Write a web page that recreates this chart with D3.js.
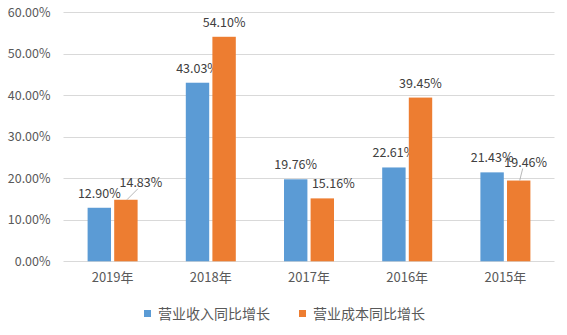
<!DOCTYPE html>
<html>
<head>
<meta charset="utf-8">
<script src="https://cdn.jsdelivr.net/npm/d3@7/dist/d3.min.js"></script>
<style>
  html, body { margin: 0; padding: 0; background: #fff; }
  svg { display: block; font-family: "Noto Sans CJK SC", "Noto Sans", sans-serif; }
</style>
</head>
<body>
<svg id="chart" width="567" height="335"></svg>
<script>
// Year-over-year growth, revenue vs. cost (%)
const years = ["2019年", "2018年", "2017年", "2016年", "2015年"];
const seriesNames = ["营业收入同比增长", "营业成本同比增长"];
const revenueGrowth = [12.90, 43.03, 19.76, 22.61, 21.43];
const costGrowth = [14.83, 54.10, 15.16, 39.45, 19.46];
const yTicks = [0, 10, 20, 30, 40, 50, 60];

const colors = ["#5B9BD5", "#ED7D31"];
const series = [revenueGrowth, costGrowth];

// small nudges for labels that would otherwise collide (index: year, series)
const labelNudge = {
  "0-1": { dx: 15, dy: -3, leader: true },
  "2-1": { dx: 11, dy: 0 },
  "4-1": { dx: 7, dy: -4, leader: true }
};

const svg = d3.select("#chart");
const margin = { left: 63.5, right: 12.5, top: 12.3, bottom: 73.7 };
const W = 567, H = 335;

const x0 = d3.scaleBand().domain(years).range([margin.left, W - margin.right]).paddingInner(0).paddingOuter(0);
const x1 = d3.scaleBand().domain([0, 1]).range([0, 50]).paddingInner(0.12);
const y = d3.scaleLinear().domain([0, 60]).range([H - margin.bottom, margin.top]);

// gridlines + y axis labels
const yAxis = d3.axisLeft(y).tickValues(yTicks).tickSize(0).tickPadding(13)
  .tickFormat(d => d.toFixed(2) + "%");
const gy = svg.append("g").attr("transform", `translate(${margin.left},0)`).call(yAxis);
gy.select(".domain").remove();
gy.selectAll("text").attr("fill", "#595959").style("font-size", "12.5px")
  .style("font-family", "'Noto Sans CJK SC', sans-serif");

svg.append("g").selectAll("line").data(yTicks).join("line")
  .attr("x1", margin.left).attr("x2", W - margin.right)
  .attr("y1", d => Math.round(y(d)) + 0.5).attr("y2", d => Math.round(y(d)) + 0.5)
  .attr("stroke", "#D9D9D9").attr("stroke-width", 1);

// x axis labels
const xAxis = d3.axisBottom(x0).tickSize(0).tickPadding(11);
const gx = svg.append("g").attr("transform", `translate(0,${y(0)})`).call(xAxis);
gx.select(".domain").remove();
gx.selectAll("text").attr("fill", "#595959").style("font-size", "13px")
  .style("font-family", "'Noto Sans CJK SC', sans-serif");

// bars
const groupOffset = (x0.bandwidth() - 50) / 2;
years.forEach((yr, i) => {
  series.forEach((vals, s) => {
    const v = vals[i];
    const bx = x0(yr) + groupOffset + x1(s);
    const bw = x1.bandwidth();
    svg.append("rect")
      .attr("x", bx).attr("y", y(v))
      .attr("width", bw).attr("height", y(0) - y(v))
      .attr("fill", colors[s]);

    const n = labelNudge[`${i}-${s}`] || { dx: 0, dy: 0 };
    const lx = bx + bw / 2 + n.dx;
    const ly = y(v) - 10 + n.dy;
    if (n.leader) {
      svg.append("line")
        .attr("x1", bx + bw / 2 + 1).attr("y1", y(v))
        .attr("x2", lx - 3).attr("y2", ly + 2)
        .attr("stroke", "#A6A6A6").attr("stroke-width", 0.8);
    }
    svg.append("text")
      .attr("x", lx).attr("y", ly)
      .attr("text-anchor", "middle")
      .attr("fill", "#404040")
      .style("font-size", "12.5px")
      .text(v.toFixed(2) + "%");
  });
});

// legend
const legendX = [144, 299];
const lg = svg.append("g");
seriesNames.forEach((name, s) => {
  lg.append("rect").attr("x", legendX[s]).attr("y", 310).attr("width", 7).attr("height", 7)
    .attr("fill", colors[s]);
  lg.append("text").attr("x", legendX[s] + 14).attr("y", 319)
    .attr("fill", "#595959").style("font-size", "14px").text(name);
});
</script>
</body>
</html>
